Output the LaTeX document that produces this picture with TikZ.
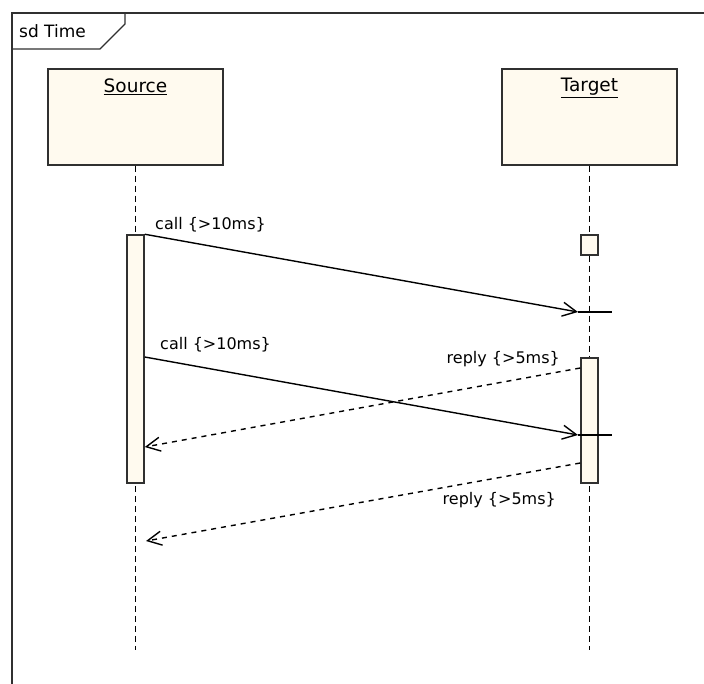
\documentclass[tikz,border=0pt]{standalone}
\usepackage{fontspec}
\setmainfont{DejaVu Sans}
\usetikzlibrary{positioning, arrows.meta}
\definecolor{boxFill}{HTML}{FFFAEF}
\definecolor{lineGray}{HTML}{303030}

\begin{document}
\begin{tikzpicture}[
  x=1pt, y=-1pt,
  frame/.style={draw=lineGray, line width=1.4pt},
  head/.style={draw=lineGray, fill=boxFill, line width=1.5pt, minimum width=175pt, minimum height=96pt, inner sep=0pt},
  headname/.style={font=\fontsize{18.5}{22}\selectfont, anchor=north, inner sep=0pt},
  act/.style={draw=lineGray, fill=boxFill, line width=1.5pt, minimum width=17pt, inner sep=0pt},
  life/.style={draw=black, line width=1.4pt, dash pattern=on 6pt off 4pt},
  call/.style={draw=black, line width=1.4pt, -{Straight Barb[length=14pt, width=14pt]}},
  reply/.style={call, dash pattern=on 5pt off 5pt},
  timetick/.style={draw=black, line width=1.4pt},
  msglabel/.style={font=\fontsize{16}{19}\selectfont, inner sep=0pt},
]
  \clip (0,0) rectangle (704,684);
  \fill[white] (0,0) rectangle (704,684);

  \draw[frame] (12,13) rectangle (720,700);
  \draw[frame] (12,49) -- (100,49) -- (125,24) -- (125,13);
  \node[msglabel, font=\fontsize{17}{20}\selectfont, anchor=west] (title) at (19,31) {sd Time};

  \node[head] (src) at (135.5,117) {};
  \node[headname] (srcName) at ([yshift=-10pt]src.north) {\underline{Source}};
  \node[head] (tgt) at (589.5,117) {};
  \node[headname] (tgtName) at ([yshift=-10pt]tgt.north) {\underline{Target}};

  \coordinate (srcEnd) at (src.south |- 0,650);
  \coordinate (tgtEnd) at (tgt.south |- 0,650);
  \draw[life] (src.south) -- (srcEnd);
  \draw[life] (tgt.south) -- (tgtEnd);

  \node[act, minimum height=248pt] (srcAct) at (135.5,359) {};
  \node[act, minimum height=20pt] (tgtMark) at (589.5,245) {};
  \node[act, minimum height=125pt] (tgtAct) at (589.5,420.5) {};

  \coordinate (call1End) at (578,312);
  \coordinate (call1Tick) at (612,312);
  \coordinate (call2Start) at (srcAct.east |- 0,357);
  \coordinate (call2End) at (578,435);
  \coordinate (call2Tick) at (612,435);
  \coordinate (reply1Start) at (tgtAct.west |- 0,368);
  \coordinate (reply1End) at (srcAct.east |- 0,447);
  \coordinate (reply2Start) at (tgtAct.west |- 0,463);
  \coordinate (reply2End) at (146,541);

  \draw[call] (srcAct.north east) -- (call1End);
  \draw[timetick] (call1End) -- (call1Tick);
  \draw[call] (call2Start) -- (call2End);
  \draw[timetick] (call2End) -- (call2Tick);
  \draw[reply] (reply1Start) -- (reply1End);
  \draw[reply] (reply2Start) -- (reply2End);

  \node[msglabel, anchor=west] (call1Label) at (155,225) {call \{>10ms\}};
  \node[msglabel, anchor=west] (call2Label) at (160,345) {call \{>10ms\}};
  \node[msglabel, anchor=east] (reply1Label) at (560,359) {reply \{>5ms\}};
  \node[msglabel, anchor=east] (reply2Label) at (556,500) {reply \{>5ms\}};
\end{tikzpicture}
\end{document}
